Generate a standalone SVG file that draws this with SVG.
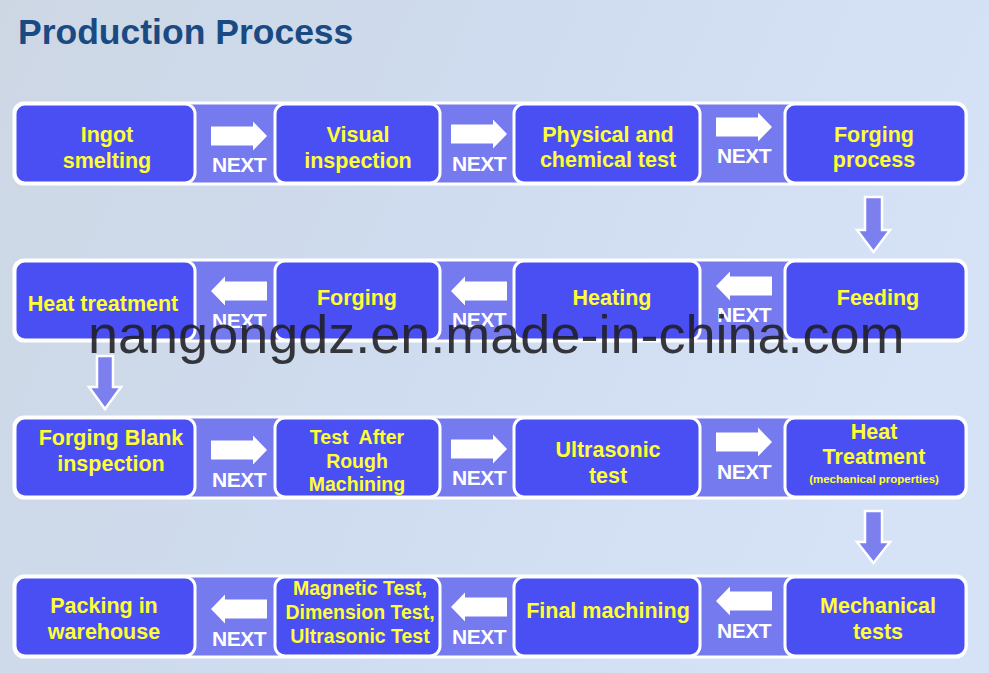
<svg xmlns="http://www.w3.org/2000/svg" xmlns:xlink="http://www.w3.org/1999/xlink" width="989" height="673" viewBox="0 0 989 673">
<style>
.bar{fill:#757aef;stroke:#ffffff;stroke-width:3}
.box{fill:#4a4ff3;stroke:#ffffff;stroke-width:3}
.t{font-family:"Liberation Sans",Arial,sans-serif;font-weight:bold;font-size:21.5px;fill:#ffff33;text-anchor:middle}
.t2{font-size:19.5px}
.small{font-size:11.5px}
.nx{font-family:"Liberation Sans",Arial,sans-serif;font-weight:bold;font-size:21px;fill:#ffffff;text-anchor:middle;letter-spacing:-0.5px}
.arr{fill:#ffffff}
.down{fill:#7c80ee;stroke:#ffffff;stroke-width:2.5;stroke-linejoin:miter}
.title{font-family:"Liberation Sans",Arial,sans-serif;font-weight:bold;font-size:35.5px;fill:#1a4a82}
.wm{font-family:"Liberation Sans",Arial,sans-serif;font-size:54px;fill:#1e1e22;fill-opacity:0.88}
</style>
<defs>
<linearGradient id="bg" x1="0" y1="0" x2="1" y2="0.3">
<stop offset="0" stop-color="#cdd7e4"/>
<stop offset="0.5" stop-color="#cfdcef"/>
<stop offset="1" stop-color="#d6e3f6"/>
</linearGradient>
<path id="ar" d="M-28,-9.5 L14,-9.5 L14,-14.5 L28,0 L14,14.5 L14,9.5 L-28,9.5 Z"/>
</defs>
<rect x="0" y="0" width="989" height="673" fill="url(#bg)"/>
<text class="title" x="18" y="44">Production Process</text>

<g id="rows">
<rect class="bar" x="14" y="103" width="952" height="81" rx="10"/>
<rect class="bar" x="14" y="260" width="952" height="81" rx="10"/>
<rect class="bar" x="14" y="417" width="952" height="81" rx="10"/>
<rect class="bar" x="14" y="576" width="952" height="81" rx="10"/>
</g>

<g id="n1"><rect class="box" x="15" y="104" width="180" height="79" rx="10"/><text class="t" x="107" y="142">Ingot</text><text class="t" x="107" y="168">smelting</text></g>
<g id="n2"><rect class="box" x="275" y="104" width="165" height="79" rx="10"/><text class="t" x="358" y="142">Visual</text><text class="t" x="358" y="168">inspection</text></g>
<g id="n3"><rect class="box" x="514" y="104" width="186" height="79" rx="10"/><text class="t" x="608" y="142">Physical and</text><text class="t" x="608" y="167">chemical test</text></g>
<g id="n4"><rect class="box" x="785" y="104" width="181" height="79" rx="10"/><text class="t" x="874" y="142">Forging</text><text class="t" x="874" y="167">process</text></g>

<g id="n5"><rect class="box" x="785" y="261" width="181" height="79" rx="10"/><text class="t" x="878" y="305">Feeding</text></g>
<g id="n6"><rect class="box" x="514" y="261" width="186" height="79" rx="10"/><text class="t" x="612" y="305">Heating</text></g>
<g id="n7"><rect class="box" x="275" y="261" width="165" height="79" rx="10"/><text class="t" x="357" y="305">Forging</text></g>
<g id="n8"><rect class="box" x="15" y="261" width="180" height="79" rx="10"/><text class="t" x="103" y="311">Heat treatment</text></g>

<g id="n9"><rect class="box" x="15" y="418" width="180" height="79" rx="10"/><text class="t" x="111" y="445">Forging Blank</text><text class="t" x="111" y="471">inspection</text></g>
<g id="n10"><rect class="box" x="275" y="418" width="165" height="79" rx="10"/><text class="t t2" x="357" y="444" xml:space="preserve">Test  After</text><text class="t t2" x="357" y="468">Rough</text><text class="t t2" x="357" y="491">Machining</text></g>
<g id="n11"><rect class="box" x="514" y="418" width="186" height="79" rx="10"/><text class="t" x="608" y="457">Ultrasonic</text><text class="t" x="608" y="483">test</text></g>
<g id="n12"><rect class="box" x="785" y="418" width="181" height="79" rx="10"/><text class="t" x="874" y="439">Heat</text><text class="t" x="874" y="464">Treatment</text><text class="t small" x="874" y="483">(mechanical properties)</text></g>

<g id="n13"><rect class="box" x="785" y="577" width="181" height="79" rx="10"/><text class="t" x="878" y="613">Mechanical</text><text class="t" x="878" y="639">tests</text></g>
<g id="n14"><rect class="box" x="514" y="577" width="186" height="79" rx="10"/><text class="t" x="608" y="618">Final machining</text></g>
<g id="n15"><rect class="box" x="275" y="577" width="165" height="79" rx="10"/><text class="t t2" x="360" y="595">Magnetic Test,</text><text class="t t2" x="360" y="619">Dimension Test,</text><text class="t t2" x="360" y="643">Ultrasonic Test</text></g>
<g id="n16"><rect class="box" x="15" y="577" width="180" height="79" rx="10"/><text class="t" x="104" y="613">Packing in</text><text class="t" x="104" y="639">warehouse</text></g>

<g id="connectors">
<use class="arr" xlink:href="#ar" transform="translate(239,136)"/><text class="nx" x="239" y="172">NEXT</text>
<use class="arr" xlink:href="#ar" transform="translate(479,134)"/><text class="nx" x="479" y="171">NEXT</text>
<use class="arr" xlink:href="#ar" transform="translate(744,127)"/><text class="nx" x="744" y="163">NEXT</text>

<use class="arr" xlink:href="#ar" transform="translate(239,291) scale(-1,1)"/><text class="nx" x="239" y="328">NEXT</text>
<use class="arr" xlink:href="#ar" transform="translate(479,291) scale(-1,1)"/><text class="nx" x="479" y="327">NEXT</text>
<use class="arr" xlink:href="#ar" transform="translate(744,286) scale(-1,1)"/><text class="nx" x="744" y="322">NEXT</text>

<use class="arr" xlink:href="#ar" transform="translate(239,450)"/><text class="nx" x="239" y="487">NEXT</text>
<use class="arr" xlink:href="#ar" transform="translate(479,449)"/><text class="nx" x="479" y="485">NEXT</text>
<use class="arr" xlink:href="#ar" transform="translate(744,442)"/><text class="nx" x="744" y="479">NEXT</text>

<use class="arr" xlink:href="#ar" transform="translate(239,609) scale(-1,1)"/><text class="nx" x="239" y="646">NEXT</text>
<use class="arr" xlink:href="#ar" transform="translate(479,607) scale(-1,1)"/><text class="nx" x="479" y="644">NEXT</text>
<use class="arr" xlink:href="#ar" transform="translate(744,601) scale(-1,1)"/><text class="nx" x="744" y="638">NEXT</text>

<path class="down" d="M865,197 L882,197 L882,230 L890,230 L873.5,252 L857,230 L865,230 Z"/>
<path class="down" d="M97,356 L113,356 L113,387 L121,387 L105,409 L89,387 L97,387 Z"/>
<path class="down" d="M865,511 L882,511 L882,542 L890,542 L873.5,563 L857,542 L865,542 Z"/>
</g>

<text class="wm" x="88" y="353">nangongdz.en.made-in-china.com</text>
</svg>
